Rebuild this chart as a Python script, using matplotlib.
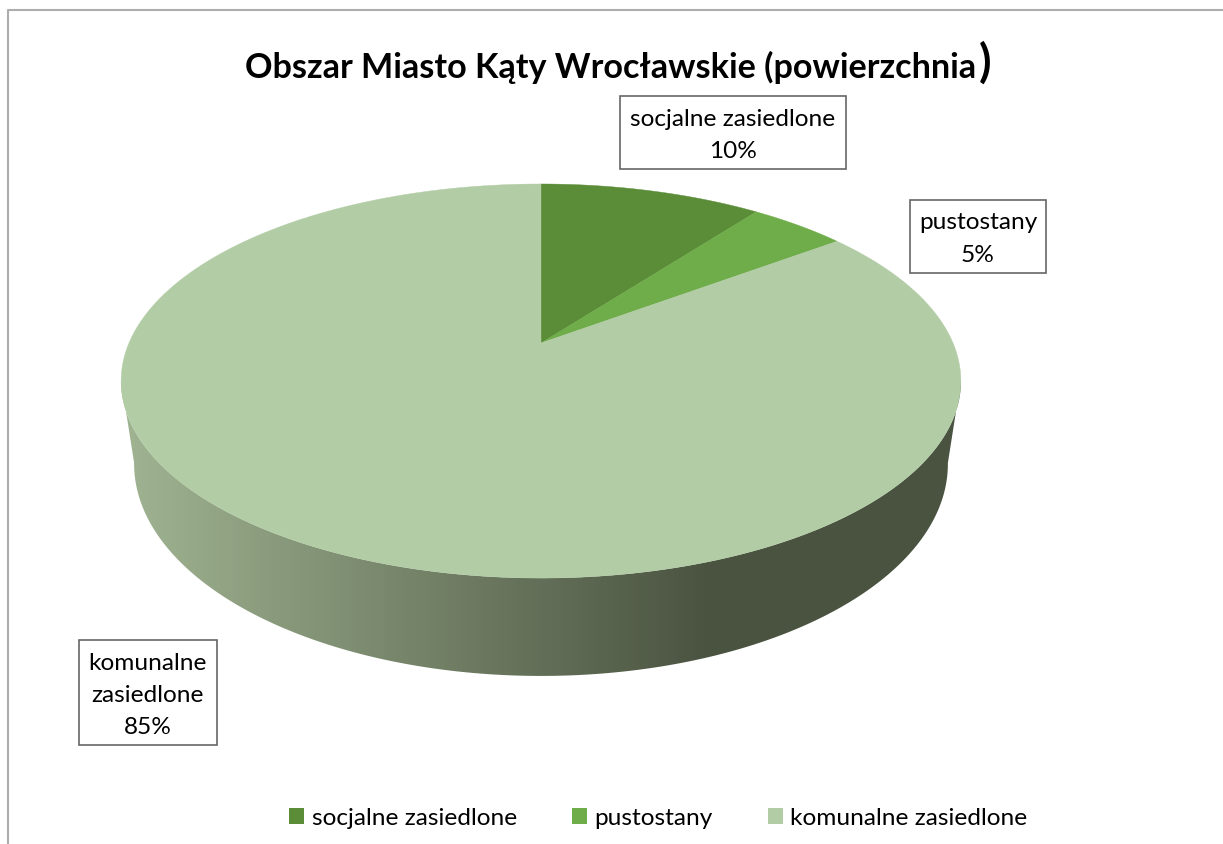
import matplotlib

matplotlib.use("Agg")
import matplotlib.pyplot as plt
import numpy as np
from matplotlib.colors import LinearSegmentedColormap
from matplotlib.patches import Polygon, Rectangle

categories = ["socjalne zasiedlone", "pustostany", "komunalne zasiedlone"]
shares = [10.3, 4.5, 85.2]
slice_colors = ["#5B8C38", "#6FAC4A", "#B2CCA5"]
box_labels = ["socjalne zasiedlone\n10%", "pustostany\n5%", "komunalne\nzasiedlone\n85%"]
title_text = "Obszar Miasto Kąty Wrocławskie (powierzchnia"

FONT = "Lato"
TEXT_SIZE = 17.6

# label boxes in pixels: left, top, right, bottom
boxes = [(620, 97, 846, 170), (910, 200.5, 1046, 273.5), (79, 640.5, 217, 746)]


def project(theta, scale_x=1.0, scale_y=1.0, apex_y=344.0):
    # angle measured clockwise from 12 o'clock, tilted disc with perspective
    k = 0.193
    x, y = np.sin(theta), np.cos(theta)
    w = 1 + k * y
    return 541 + scale_x * 412 * x / w, apex_y - scale_y * 189.7 * y / w


def slice_polygon(start, end):
    theta = np.linspace(start, end, 200)
    px, py = project(theta)
    return np.column_stack([np.r_[541, px], np.r_[344, py]])


def side_wall():
    # outer outline: bottom disc front arc, closed along the top disc front arc
    theta_low = np.linspace(np.pi * 0.5 + 0.19, np.pi * 1.5 - 0.19, 300)
    theta_top = theta_low[::-1]
    bx, by = project(theta_low, scale_x=0.969, scale_y=1.076, apex_y=424.0)
    tx, ty = project(theta_top)
    return np.column_stack([np.r_[bx, tx], np.r_[by, ty]])


fig = plt.figure(figsize=(12.23, 8.45), dpi=100)
ax = fig.add_axes([0, 0, 1, 1])
ax.set_xlim(0, 1223)
ax.set_ylim(845, 0)
ax.axis("off")

# chart frame, the bottom edge is cut off by the image
ax.plot([7.5, 7.5, 1223], [845, 10.5, 10.5], color="#ADADAD", lw=1.5, solid_capstyle="butt")

wall_cmap = LinearSegmentedColormap.from_list("wall", ["#A0B492", "#4A5340"])
gradient = np.clip((np.arange(121, 961) - 121) / (710 - 121), 0, 1)[None, :]
wall_img = ax.imshow(gradient, cmap=wall_cmap, extent=(121, 961, 690, 370), aspect="auto", zorder=1)
ax.set_xlim(0, 1223)
ax.set_ylim(845, 0)
wall = Polygon(side_wall(), closed=True, facecolor="none", edgecolor="none", transform=ax.transData)
ax.add_patch(wall)
wall_img.set_clip_path(wall)

edges = np.cumsum([0] + shares) / sum(shares) * 2 * np.pi
for i, color in enumerate(slice_colors):
    ax.add_patch(Polygon(slice_polygon(edges[i], edges[i + 1]), closed=True, facecolor=color,
                         edgecolor=color, lw=0.3, zorder=2))

for (left, top, right, bottom), label in zip(boxes, box_labels):
    ax.add_patch(Rectangle((left, top), right - left, bottom - top, facecolor="white",
                           edgecolor="#666666", lw=1.2, zorder=3))
    ax.text((left + right) / 2, (top + bottom) / 2 + 2, label, ha="center", va="center", family=FONT,
            fontsize=TEXT_SIZE, color="black", linespacing=1.65, zorder=4)

ax.text(245, 78, title_text, ha="left", va="baseline", family=FONT, fontsize=24.6,
        fontweight="bold", color="black")
ax.text(979, 77, ")", ha="left", va="baseline", family=FONT, fontsize=33, fontweight="bold", color="black")

handles = [Rectangle((0, 0), 1, 1, facecolor=c, edgecolor="none") for c in slice_colors]
ax.legend(handles, categories, ncol=3, loc="center", bbox_to_anchor=(658.5 / 1223, 1 - 819 / 845),
          frameon=False, prop={"family": FONT, "size": TEXT_SIZE}, handlelength=0.62, handleheight=0.62,
          handletextpad=0.3, columnspacing=2.25, borderpad=0)

fig.savefig("out.png", dpi=100)
plt.close(fig)
